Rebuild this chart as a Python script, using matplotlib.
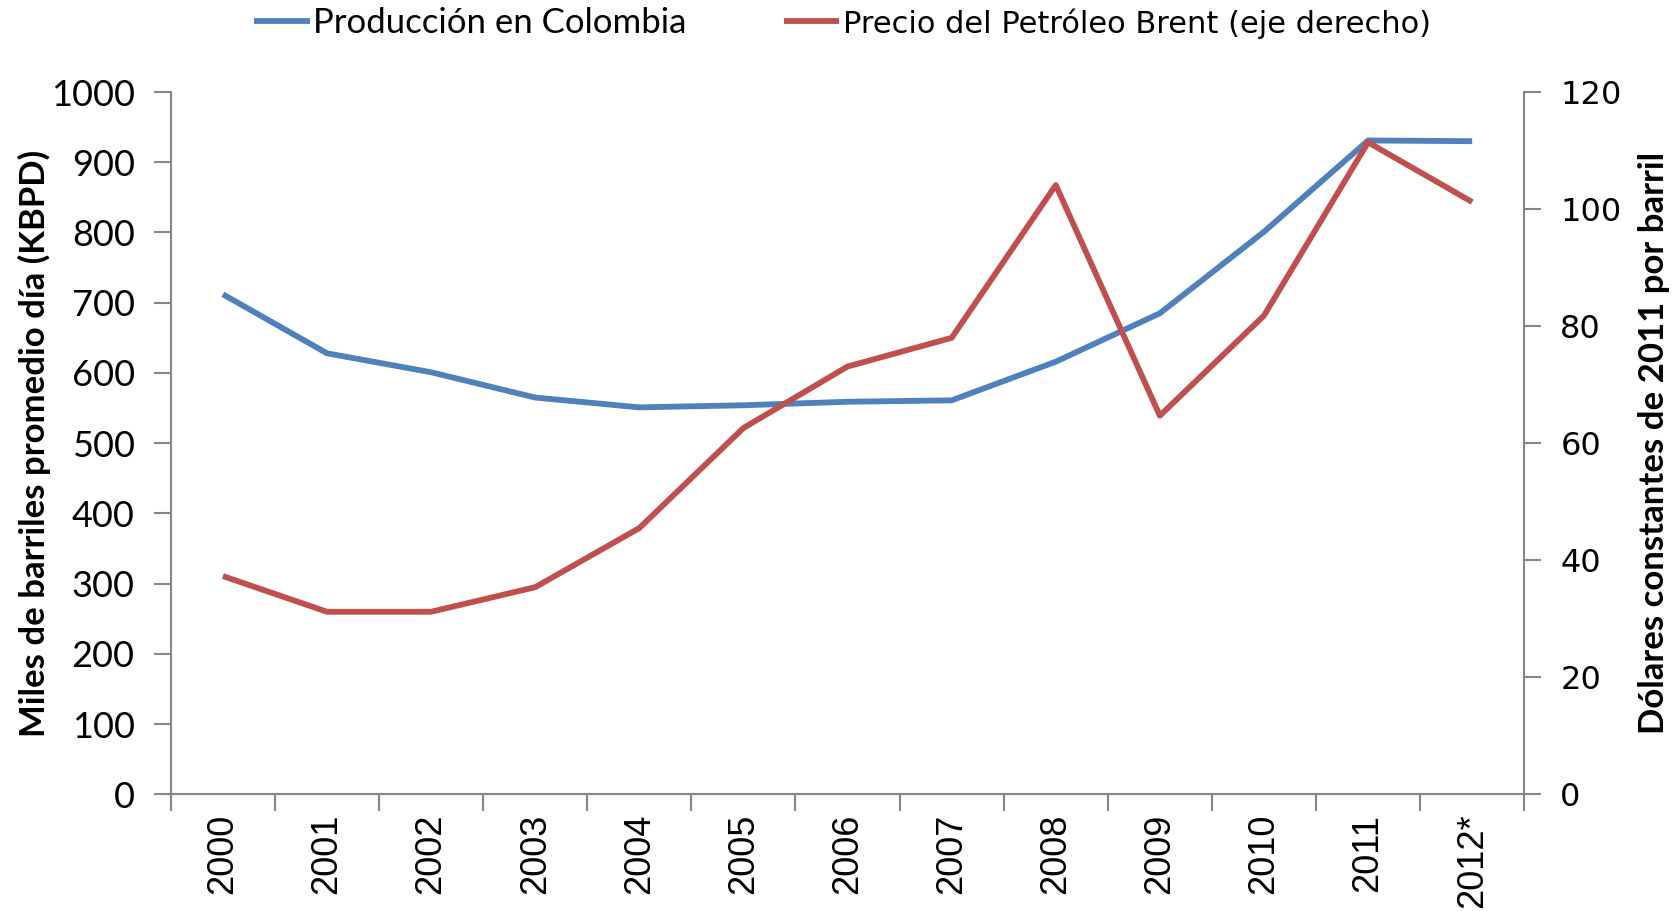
import matplotlib

matplotlib.use("Agg")

import matplotlib.pyplot as plt

# Data
years = ["2000", "2001", "2002", "2003", "2004", "2005", "2006",
         "2007", "2008", "2009", "2010", "2011", "2012*"]
produccion = [712, 628, 601, 565, 551, 554, 559, 561, 616, 685, 801, 931, 930]
brent = [37.3, 31.2, 31.2, 35.4, 45.5, 62.6, 73.1, 78.0, 104.1, 64.7, 81.8, 111.4, 101.2]

BLUE = "#4F81BD"
RED = "#C0504D"
GREY = "#868686"
NARROW = ["Liberation Sans Narrow", "Lato", "DejaVu Sans"]

fig = plt.figure(figsize=(16.75, 9.11), dpi=100)
ax = fig.add_axes([0.102, 0.128, 0.808, 0.771])
ax2 = ax.twinx()

x = list(range(len(years)))
l1, = ax.plot(x, produccion, color=BLUE, lw=4.2, solid_capstyle="butt",
              label="Producción en Colombia")
l2, = ax2.plot(x, brent, color=RED, lw=4.2, solid_capstyle="butt",
               label="Precio del Petróleo Brent (eje derecho)")

ax.set_xlim(-0.5, len(years) - 0.5)
ax.set_ylim(0, 1000)
ax2.set_ylim(0, 120)
ax.set_yticks(range(0, 1001, 100))
ax2.set_yticks(range(0, 121, 20))

# category axis: ticks on the boundaries, labels at the centres
ax.set_xticks([i - 0.5 for i in range(len(years) + 1)])
ax.set_xticklabels([])
ax.set_xticks(x, minor=True)
ax.set_xticklabels(years, minor=True, rotation=90, fontsize=26,
                   family="Liberation Sans")
ax.tick_params(axis="x", which="minor", length=0, pad=14)
ax.tick_params(axis="x", which="major", length=12, width=1.5, color=GREY)

for a in (ax, ax2):
    a.spines["top"].set_visible(False)
    for side in ("left", "right", "bottom"):
        a.spines[side].set_color(GREY)
        a.spines[side].set_linewidth(1.5)
ax.spines["right"].set_visible(False)
ax2.spines["left"].set_visible(False)
ax2.spines["bottom"].set_visible(False)

ax.tick_params(axis="y", length=12, width=1.5, color=GREY, pad=14)
for t in ax.get_yticklabels():
    t.set_fontsize(26)
    t.set_family(NARROW)
ax2.tick_params(axis="y", length=12, width=1.5, color=GREY, pad=14)
for t in ax2.get_yticklabels():
    t.set_fontsize(23)
    t.set_family("DejaVu Sans")

ax.set_ylabel("Miles de barriles promedio día (KBPD)", fontsize=25,
              fontweight="bold", family=NARROW, labelpad=0)
ax2.set_ylabel("Dólares constantes de 2011 por barril", fontsize=25,
               fontweight="bold", family=NARROW, labelpad=12)

leg = fig.legend(handles=[l1, l2], loc="center", bbox_to_anchor=(0.503, 0.975),
                 ncol=2, frameon=False, fontsize=25, handlelength=1.6,
                 handletextpad=0.1, columnspacing=2.8)
leg.get_texts()[0].set_family(NARROW)
leg.get_texts()[1].set_family("DejaVu Sans")
leg.get_texts()[1].set_fontsize(22)

fig.savefig("out.png", dpi=100)
